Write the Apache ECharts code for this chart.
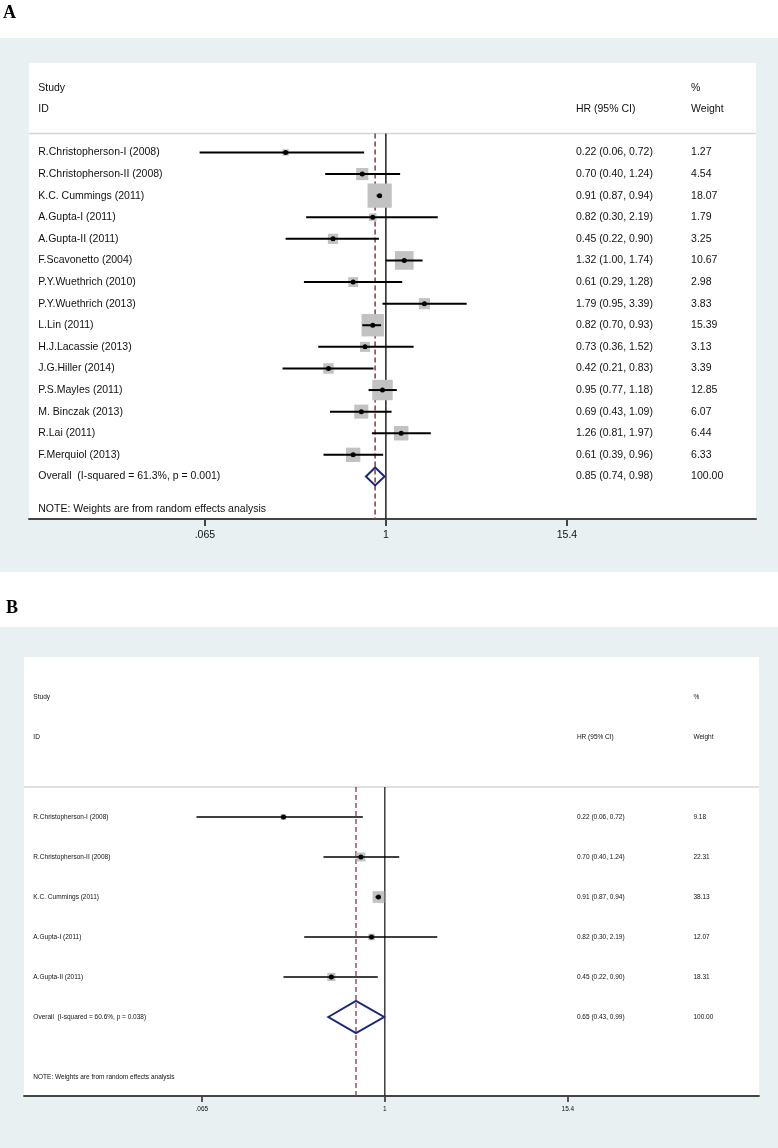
<!DOCTYPE html>
<html>
<head>
<meta charset="utf-8">
<script src="https://cdn.jsdelivr.net/npm/echarts@6/dist/echarts.min.js"></script>
<style>
html,body{margin:0;padding:0;background:#fff}
#chart{width:778px;height:1148px}
</style>
</head>
<body>
<div id="chart"></div>
<script>
// ---------------- DATA ----------------
const studiesA = [
  'R.Christopherson-I (2008)', 'R.Christopherson-II (2008)', 'K.C. Cummings (2011)',
  'A.Gupta-I (2011)', 'A.Gupta-II (2011)', 'F.Scavonetto (2004)', 'P.Y.Wuethrich (2010)',
  'P.Y.Wuethrich (2013)', 'L.Lin (2011)', 'H.J.Lacassie (2013)', 'J.G.Hiller (2014)',
  'P.S.Mayles (2011)', 'M. Binczak (2013)', 'R.Lai (2011)', 'F.Merquiol (2013)'
];
const hrA     = [0.22, 0.70, 0.91, 0.82, 0.45, 1.32, 0.61, 1.79, 0.82, 0.73, 0.42, 0.95, 0.69, 1.26, 0.61];
const loA     = [0.06, 0.40, 0.87, 0.30, 0.22, 1.00, 0.29, 0.95, 0.70, 0.36, 0.21, 0.77, 0.43, 0.81, 0.39];
const hiA     = [0.72, 1.24, 0.94, 2.19, 0.90, 1.74, 1.28, 3.39, 0.93, 1.52, 0.83, 1.18, 1.09, 1.97, 0.96];
const weightA = [1.27, 4.54, 18.07, 1.79, 3.25, 10.67, 2.98, 3.83, 15.39, 3.13, 3.39, 12.85, 6.07, 6.44, 6.33];
const overallLabelA = 'Overall  (I-squared = 61.3%, p = 0.001)';
const overallA = [0.85, 0.74, 0.98];   // HR, lower, upper
const overallWeightA = 100.00;

const studiesB = [
  'R.Christopherson-I (2008)', 'R.Christopherson-II (2008)', 'K.C. Cummings (2011)',
  'A.Gupta-I (2011)', 'A.Gupta-II (2011)'
];
const hrB     = [0.22, 0.70, 0.91, 0.82, 0.45];
const loB     = [0.06, 0.40, 0.87, 0.30, 0.22];
const hiB     = [0.72, 1.24, 0.94, 2.19, 0.90];
const weightB = [9.18, 22.31, 38.13, 12.07, 18.31];
const overallLabelB = 'Overall  (I-squared = 60.6%, p = 0.038)';
const overallB = [0.65, 0.43, 0.99];
const overallWeightB = 100.00;

const tickValues = [0.065, 1, 15.4];
const tickLabels = ['.065', '1', '15.4'];
const headerStudy = ['Study', 'ID'];
const headerHR = 'HR (95% CI)';
const headerWeight = ['%', 'Weight'];
const noteText = 'NOTE: Weights are from random effects analysis';
const panelLetters = ['A', 'B'];

// ---------------- LAYOUT ----------------
const FONT = "'Liberation Sans', Arial, sans-serif";
const X_MIN = -5.39, X_MAX = 5.59;       // ln(HR) axis extent
const COL_NAME = -5.25, COL_HR = 2.87, COL_W = 4.61;  // text columns in ln(HR) units

const panels = [
  {
    studies: studiesA, hr: hrA, lo: loA, hi: hiA, w: weightA,
    overallLabel: overallLabelA, overall: overallA, overallW: overallWeightA,
    grid: {left: 29, top: 63, width: 727, height: 456},
    frame: {x: 0, y: 38, w: 778, h: 534},
    letterPos: [3, 4],
    yMin: -4.14, yMax: 16.97, sepRow: -0.88, noteRow: 16.5,
    font: 10.5, boxK: 5.7, ciW: 2, dotR: 2.5, diamondHalf: 9,
    axisW: 2, tickLen: 7, labelMargin: 11, refW: 1.5, dash: [5, 3], sepW: 1.5
  },
  {
    studies: studiesB, hr: hrB, lo: loB, hi: hiB, w: weightB,
    overallLabel: overallLabelB, overall: overallB, overallW: overallWeightB,
    grid: {left: 24, top: 657, width: 735, height: 439},
    frame: {x: 0, y: 627, w: 778, h: 521},
    letterPos: [6, 599],
    yMin: -4, yMax: 6.975, sepRow: -0.75, noteRow: 6.5,
    font: 6.5, boxK: 1.9, ciW: 1.6, dotR: 2.5, diamondHalf: 16,
    axisW: 1.8, tickLen: 6, labelMargin: 10, refW: 1.3, dash: [5, 3], sepW: 1.5
  }
];

const FRAME_COLOR = '#e8f0f2';
const BOX_COLOR = '#c2c2c2';
const DIAMOND_COLOR = '#1b2878';
const DASH_COLOR = '#92353e';
const SEP_COLOR = '#d3d7da';
const AXIS_COLOR = '#444';

function txt(x, y, s, p, align) {
  return {
    type: 'text', x: x, y: y,
    style: {text: s, fill: '#111', fontSize: p.font, fontFamily: FONT,
            align: align || 'left', verticalAlign: 'middle'}
  };
}

function ciText(h, l, u) {
  return h.toFixed(2) + ' (' + l.toFixed(2) + ', ' + u.toFixed(2) + ')';
}

const ticksLn = tickValues.map(v => Math.log(v));
function tickFormatter(v) {
  for (let i = 0; i < ticksLn.length; i++) {
    if (Math.abs(ticksLn[i] - v) < 1e-6) return tickLabels[i];
  }
  return '';
}

const grids = [], xAxes = [], yAxes = [], series = [], graphics = [];

panels.forEach((p, pi) => {
  grids.push(Object.assign({show: false, containLabel: false}, p.grid));
  xAxes.push({
    gridIndex: pi, type: 'value', min: X_MIN, max: X_MAX, position: 'bottom',
    axisLine: {show: true, onZero: false, lineStyle: {color: AXIS_COLOR, width: p.axisW}},
    axisTick: {show: true, length: p.tickLen, customValues: ticksLn,
               lineStyle: {color: AXIS_COLOR, width: p.axisW}},
    axisLabel: {show: true, customValues: ticksLn, formatter: tickFormatter,
                fontSize: p.font, fontFamily: FONT, color: '#111', margin: p.labelMargin},
    splitLine: {show: false}
  });
  yAxes.push({gridIndex: pi, type: 'value', inverse: true, min: p.yMin, max: p.yMax, show: false});

  // backgrounds
  graphics.push({type: 'rect', z: -10, silent: true,
    shape: {x: p.frame.x, y: p.frame.y, width: p.frame.w, height: p.frame.h},
    style: {fill: FRAME_COLOR}});
  graphics.push({type: 'rect', z: -9, silent: true,
    shape: {x: p.grid.left, y: p.grid.top, width: p.grid.width, height: p.grid.height},
    style: {fill: '#ffffff'}});
  graphics.push({type: 'text', z: 5, silent: true, x: p.letterPos[0], y: p.letterPos[1],
    style: {text: panelLetters[pi], fill: '#000', fontSize: 18, fontWeight: 'bold',
            fontFamily: "'Liberation Serif', 'Times New Roman', serif",
            verticalAlign: 'top'}});

  const nStudies = p.studies.length;
  const overallRow = nStudies;

  // reference lines, header, note
  series.push({
    type: 'custom', xAxisIndex: pi, yAxisIndex: pi, z: 1, silent: true,
    data: [[0, 0]],
    renderItem: function (params, api) {
      const top0 = api.coord([0, p.sepRow]);
      const bot0 = api.coord([0, p.yMax]);
      const lnO = Math.log(p.overall[0]);
      const topD = api.coord([lnO, p.sepRow]);
      const botD = api.coord([lnO, p.yMax]);
      const sepL = api.coord([X_MIN, p.sepRow]);
      const sepR = api.coord([X_MAX, p.sepRow]);
      const st = api.coord([COL_NAME, -3]);
      const id = api.coord([COL_NAME, -2]);
      const hrH = api.coord([COL_HR, -2]);
      const pc = api.coord([COL_W, -3]);
      const wt = api.coord([COL_W, -2]);
      const nt = api.coord([COL_NAME, p.noteRow]);
      return {type: 'group', children: [
        {type: 'line', shape: {x1: sepL[0], y1: sepL[1], x2: sepR[0], y2: sepR[1]},
         style: {stroke: SEP_COLOR, lineWidth: p.sepW}},
        {type: 'line', shape: {x1: top0[0], y1: top0[1], x2: bot0[0], y2: bot0[1]},
         style: {stroke: '#222', lineWidth: p.refW}},
        {type: 'line', shape: {x1: topD[0], y1: topD[1], x2: botD[0], y2: botD[1]},
         style: {stroke: DASH_COLOR, lineWidth: p.refW, lineDash: p.dash}},
        txt(st[0], st[1], headerStudy[0], p),
        txt(id[0], id[1], headerStudy[1], p),
        txt(hrH[0], hrH[1], headerHR, p),
        txt(pc[0], pc[1], headerWeight[0], p),
        txt(wt[0], wt[1], headerWeight[1], p),
        txt(nt[0], nt[1], noteText, p)
      ]};
    }
  });

  // studies
  series.push({
    type: 'custom', xAxisIndex: pi, yAxisIndex: pi, z: 3, silent: true,
    encode: {x: 0, y: 3},
    data: p.studies.map((s, i) => [Math.log(p.hr[i]), Math.log(p.lo[i]), Math.log(p.hi[i]), i, p.w[i]]),
    renderItem: function (params, api) {
      const i = params.dataIndex;
      const row = api.value(3);
      const c = api.coord([api.value(0), row]);
      const cl = api.coord([api.value(1), row]);
      const ch = api.coord([api.value(2), row]);
      const side = p.boxK * Math.sqrt(api.value(4));
      const nm = api.coord([COL_NAME, row]);
      const hx = api.coord([COL_HR, row]);
      const wx = api.coord([COL_W, row]);
      return {type: 'group', children: [
        {type: 'rect', shape: {x: c[0] - side / 2, y: c[1] - side / 2, width: side, height: side},
         style: {fill: BOX_COLOR}},
        {type: 'line', shape: {x1: cl[0], y1: cl[1], x2: ch[0], y2: ch[1]},
         style: {stroke: '#000', lineWidth: p.ciW}},
        {type: 'circle', shape: {cx: c[0], cy: c[1], r: p.dotR}, style: {fill: '#000'}},
        txt(nm[0], nm[1], p.studies[i], p),
        txt(hx[0], hx[1], ciText(p.hr[i], p.lo[i], p.hi[i]), p),
        txt(wx[0], wx[1], p.w[i].toFixed(2), p)
      ]};
    }
  });

  // overall diamond
  series.push({
    type: 'custom', xAxisIndex: pi, yAxisIndex: pi, z: 3, silent: true,
    encode: {x: 0, y: 3},
    data: [[Math.log(p.overall[0]), Math.log(p.overall[1]), Math.log(p.overall[2]), overallRow]],
    renderItem: function (params, api) {
      const row = api.value(3);
      const c = api.coord([api.value(0), row]);
      const cl = api.coord([api.value(1), row]);
      const ch = api.coord([api.value(2), row]);
      const nm = api.coord([COL_NAME, row]);
      const hx = api.coord([COL_HR, row]);
      const wx = api.coord([COL_W, row]);
      const h = p.diamondHalf;
      return {type: 'group', children: [
        {type: 'polygon', shape: {points: [[cl[0], c[1]], [c[0], c[1] - h], [ch[0], c[1]], [c[0], c[1] + h]]},
         style: {fill: 'none', stroke: DIAMOND_COLOR, lineWidth: 2}},
        txt(nm[0], nm[1], p.overallLabel, p),
        txt(hx[0], hx[1], ciText(p.overall[0], p.overall[1], p.overall[2]), p),
        txt(wx[0], wx[1], p.overallW.toFixed(2), p)
      ]};
    }
  });
});

const chart = echarts.init(document.getElementById('chart'), null, {renderer: 'canvas'});
chart.setOption({
  animation: false,
  backgroundColor: '#ffffff',
  grid: grids,
  xAxis: xAxes,
  yAxis: yAxes,
  graphic: graphics,
  series: series
});
</script>
</body>
</html>
